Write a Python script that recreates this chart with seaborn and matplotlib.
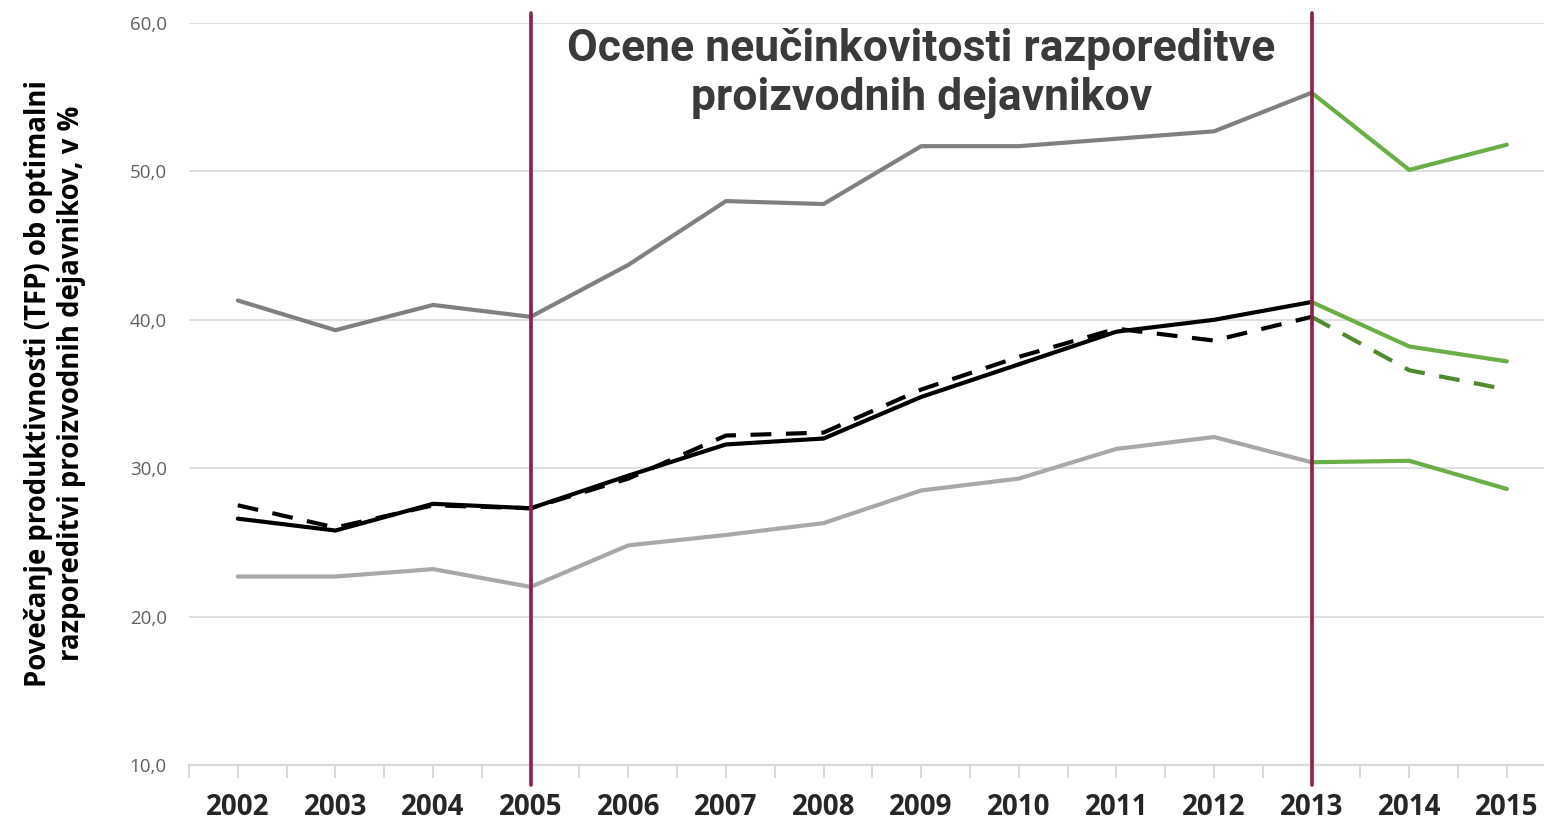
import matplotlib
matplotlib.use("Agg")
import matplotlib.pyplot as plt
import seaborn as sns
import pandas as pd
from matplotlib.ticker import FixedLocator

# data
years = [2002, 2003, 2004, 2005, 2006, 2007, 2008, 2009, 2010, 2011, 2012, 2013, 2014, 2015]
upper = [41.3, 39.3, 41.0, 40.2, 43.7, 48.0, 47.8, 51.7, 51.7, 52.2, 52.7, 55.3, 50.1, 51.8]
central = [26.6, 25.8, 27.6, 27.3, 29.5, 31.6, 32.0, 34.8, 37.0, 39.2, 40.0, 41.2, 38.2, 37.2]
central_alt = [27.5, 26.0, 27.5, 27.3, 29.3, 32.2, 32.4, 35.3, 37.5, 39.4, 38.6, 40.2, 36.6, 35.3]
lower = [22.7, 22.7, 23.2, 22.0, 24.8, 25.5, 26.3, 28.5, 29.3, 31.3, 32.1, 30.4, 30.5, 28.6]
yticks = [10, 20, 30, 40, 50, 60]
ytick_labels = ["10,0", "20,0", "30,0", "40,0", "50,0", "60,0"]
marker_years = [2005, 2013]
split_year = 2013

title = "Ocene neučinkovitosti razporeditve\nproizvodnih dejavnikov"
ylabel = "Povečanje produktivnosti (TFP) ob optimalni\nrazporeditvi proizvodnih dejavnikov, v %"

df = pd.DataFrame({"year": years, "upper": upper, "central": central,
                   "central_alt": central_alt, "lower": lower})
hist = df[df.year <= split_year]
proj = df[df.year >= split_year]

sns.set_style("white")
plt.rcParams['font.family'] = ['Open Sans', 'DejaVu Sans']

fig = plt.figure(figsize=(15.44, 8.21), dpi=100)
ax = fig.add_axes([189 / 1544, 56 / 821, 1355 / 1544, 742 / 821])

GREEN = '#6aaf45'
DGREEN = '#4f8a2f'
LW = 3.0
DASH = (5, 3.5)

sns.lineplot(data=hist, x='year', y='upper', color='#808080', linewidth=LW, ax=ax)
sns.lineplot(data=hist, x='year', y='lower', color='#a8a8a8', linewidth=LW, ax=ax)
sns.lineplot(data=hist, x='year', y='central', color='black', linewidth=LW, ax=ax)
sns.lineplot(data=hist, x='year', y='central_alt', color='black', linewidth=LW, ax=ax,
             linestyle=(0, DASH))
sns.lineplot(data=proj, x='year', y='upper', color=GREEN, linewidth=LW, ax=ax)
sns.lineplot(data=proj, x='year', y='lower', color=GREEN, linewidth=LW, ax=ax)
sns.lineplot(data=proj, x='year', y='central', color=GREEN, linewidth=LW, ax=ax)
sns.lineplot(data=proj, x='year', y='central_alt', color=DGREEN, linewidth=LW, ax=ax,
             linestyle=(0, DASH))

for yr in marker_years:
    ax.plot([yr, yr], [-0.027, 1.0135], transform=ax.get_xaxis_transform(),
            color='#8c1f4f', linewidth=2.6, solid_capstyle='round', clip_on=False, zorder=5)

ax.set_xlim(2001.5, 2015.38)
ax.set_ylim(10, 60)
ax.set_yticks(yticks)
ax.set_yticklabels(ytick_labels)
ax.set_xticks(years)
ax.set_xticklabels([str(y) for y in years])
ax.xaxis.set_minor_locator(FixedLocator([y - 0.5 for y in years]))
ax.grid(axis='y', color='#d9d9d9', linewidth=1.2)
ax.set_axisbelow(True)
for s in ['top', 'left', 'right']:
    ax.spines[s].set_visible(False)
ax.spines['bottom'].set_color('#d9d9d9')
ax.spines['bottom'].set_linewidth(1.6)
ax.tick_params(axis='x', which='both', length=9, width=1.4, color='#d9d9d9', bottom=True)
ax.tick_params(axis='x', which='major', pad=11.5, labelsize=20)
ax.tick_params(axis='y', length=0, pad=16, labelsize=13.5, labelcolor='#606060')
for lab in ax.get_xticklabels():
    lab.set_fontweight('bold')
ax.set_xlabel('')
ax.set_ylabel('')

ax.text(2009.0, 56.6, title, ha='center', va='center', fontsize=32, fontweight='bold',
        color='#3a3a3a', family=['Roboto', 'DejaVu Sans'], linespacing=1.2)
fig.text(55 / 1544, 1 - 383 / 821, ylabel, rotation=90, ha='center', va='center',
         fontsize=19.8, fontweight='bold', color='black', linespacing=1.2)

fig.savefig('out.png', dpi=100)
